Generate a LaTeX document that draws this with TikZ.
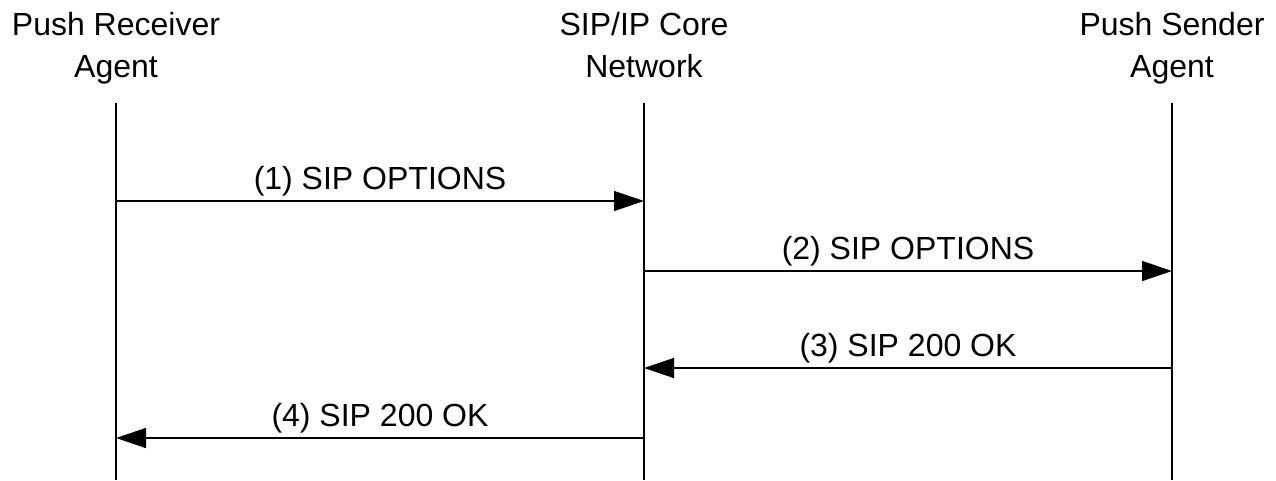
\documentclass[tikz,border=0pt]{standalone}
\usepackage{fontspec}
\setmainfont{Liberation Sans}
\usetikzlibrary{arrows.meta}
\begin{document}
\begin{tikzpicture}[
                x=0.75pt,y=-0.75pt,
                actor/.style={align=center,anchor=north,font=\fontsize{24}{31.5}\selectfont,inner sep=0pt},
                life/.style={line width=1.2pt},
                msg/.style={line width=1pt,-{Triangle[length=22.5pt,width=15pt]}},
                lbl/.style={font=\fontsize{24}{28}\selectfont,inner sep=0pt,above=3pt}
            ]
                \useasboundingbox (0,0) rectangle (1276,480);

                \node[actor] (pra) at (116,6) {\strut Push Receiver\\\strut Agent};
                \node[actor] (core) at (644,6) {\strut SIP/IP Core\\\strut Network};
                \node[actor] (psa) at (1172,6) {\strut Push Sender\\\strut Agent};

                \foreach \a in {pra,core,psa} {
                    \coordinate (\a top) at (\a |- 0,103);
                    \coordinate (\a bot) at (\a |- 0,480);
                    \draw[life] (\a top) -- (\a bot);
                }

                \foreach \y/\from/\to/\txt in {201/pra/core/(1) SIP OPTIONS,
                                               271/core/psa/(2) SIP OPTIONS,
                                               368/psa/core/(3) SIP 200 OK,
                                               438/core/pra/(4) SIP 200 OK} {
                    \draw[msg] (\from |- 0,\y) -- node[lbl] {\txt} (\to |- 0,\y);
                }
            \end{tikzpicture}
\end{document}
